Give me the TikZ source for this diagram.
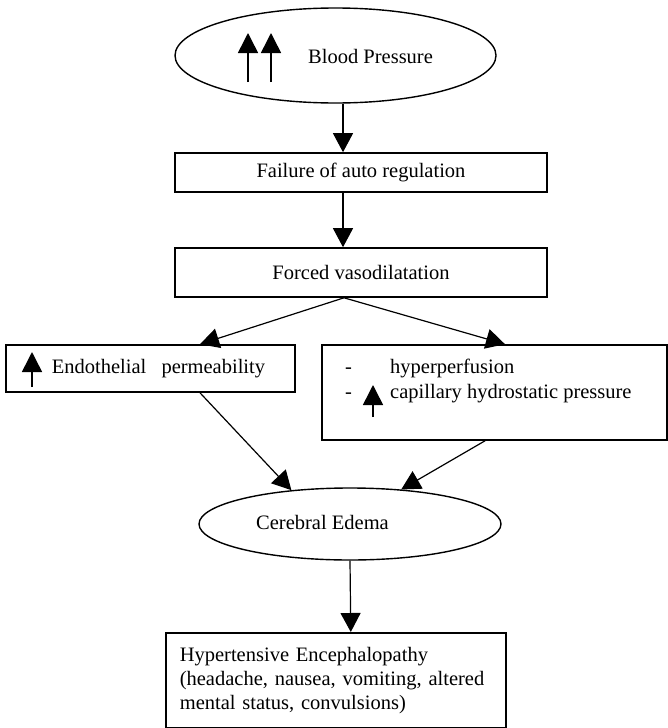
\documentclass[tikz,border=0pt]{standalone}
\usepackage{fontspec}
\setmainfont{Liberation Serif}
\usetikzlibrary{arrows.meta,shapes.geometric}
\tikzset{box/.style={draw, rectangle, line width=1.6pt, font=\fontsize{20.5}{24}\selectfont}}
\tikzset{oval/.style={draw, ellipse, line width=1.4pt, inner sep=0pt}}
\tikzset{txt/.style={inner sep=0pt, font=\fontsize{20.5}{24}\selectfont}}
\tikzset{conn/.style={line width=1.2pt, -{Triangle[width=20pt,length=19pt]}}}
\tikzset{uparr/.style={line width=1.5pt, -{Triangle[width=20pt,length=20pt]}}}

\begin{document}
\begin{tikzpicture}[x=1pt, y=-1pt]
	\useasboundingbox (0,0) rectangle (668,728);
	
	\node[oval, minimum width=321pt, minimum height=95pt] (bp) at (335.5,55.5) {};
	\node[txt, anchor=base west] (bptxt) at (308,63) {Blood Pressure};
	\draw[uparr] (248,82) -- (248,33);
	\draw[uparr] (271,82) -- (271,33);
	
	\node[box, minimum width=372pt, minimum height=39pt] (fail) at (361,172.5) {Failure of auto regulation};
	\node[box, minimum width=372pt, minimum height=49pt] (forced) at (361,272.5) {Forced vasodilatation};
	
	\node[box, minimum width=289pt, minimum height=47pt] (endo) at (150.5,368.5) {\hspace*{16pt}Endothelial\hspace{10pt} permeability};
	\draw[uparr] (32,387) -- (32,352);
	
	\node[box, minimum width=345pt, minimum height=95pt] (hyper) at (494.5,392.5) {};
	\node[txt, anchor=base west] (dash1) at (345,373) {-};
	\node[txt, anchor=base west] (perf) at (390,373) {hyperperfusion};
	\node[txt, anchor=base west] (dash2) at (345,398) {-};
	\node[txt, anchor=base west] (capil) at (390,398) {capillary hydrostatic pressure};
	\draw[uparr] (373,417) -- (373,385);
	
	\node[oval, minimum width=302pt, minimum height=72pt] (edema) at (350,524) {};
	\node[txt, anchor=base west] (edtxt) at (256,529) {Cerebral Edema};
	
	\node[box, anchor=north west, minimum height=95pt, text width=312pt, inner xsep=14pt, align=left] (hyp) at (165,632) {Hypertensive Encephalopathy\\(headache, nausea, vomiting, altered\\mental status, convulsions)};
	
	% connectors
	\draw[conn] ([xshift=7.5pt]bp.south) -- ([xshift=-18pt]fail.north);
	\draw[conn] ([xshift=-18pt]fail.south) -- ([xshift=-18pt]forced.north);
	\draw[conn] ([xshift=-17pt]forced.south) -- ([xshift=49.5pt]endo.north);
	\draw[conn] ([xshift=-17pt]forced.south) -- ([xshift=10.5pt]hyper.north);
	\draw[conn] ([xshift=49.5pt]endo.south) -- (edema.150);
	\draw[conn] ([xshift=-9.5pt]hyper.south) -- (edema.34);
	\draw[conn] (edema.south) -- ([xshift=15pt]hyp.north);
	
\end{tikzpicture}
\end{document}
